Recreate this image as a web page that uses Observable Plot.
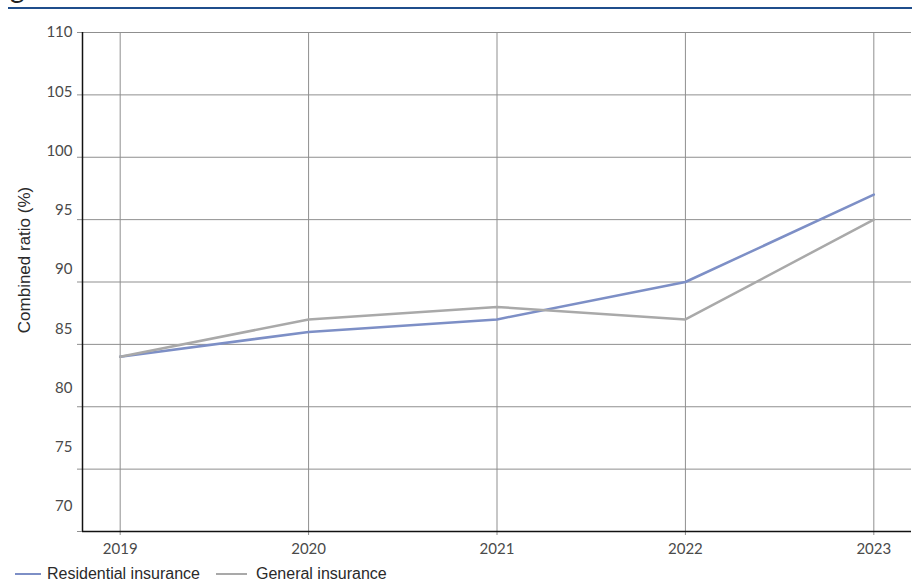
<!DOCTYPE html>
<html>
<head>
<meta charset="utf-8">
<script src="https://cdn.jsdelivr.net/npm/d3@7"></script>
<script src="https://cdn.jsdelivr.net/npm/@observablehq/plot@0.6"></script>
<style>
  html, body { margin: 0; padding: 0; background: #fff; }
  #head { display: block; }
  #legend {
    display: flex; align-items: center; margin: 4px 0 0 15px;
    font: 16px "Liberation Sans", Arial, sans-serif; color: #2a2a2a; line-height: 18px;
  }
  #legend .item { display: flex; align-items: center; margin-right: 16px; }
  #legend .sw { width: 26px; height: 0; border-top: 2.5px solid; margin-right: 6px; }
  #legend .item + .item .sw { width: 31px; margin-right: 9px; }
</style>
</head>
<body>
<svg id="head" width="912" height="10">
  <text x="10" y="-2" font-family="Lato, sans-serif" font-size="28" fill="#222">
    <tspan x="10" dy="-34">Combined ratio, residential insurance and</tspan>
    <tspan x="10" dy="34">general insurance</tspan>
  </text>
  <line x1="8" x2="912" y1="8" y2="8" stroke="#1f4e8c" stroke-width="2"></line>
</svg>
<div id="chart"></div>
<div id="legend"></div>
<script>
// Combined ratio by year, 2019–2023
const years = [2019, 2020, 2021, 2022, 2023];
const residential = [84, 86, 87, 90, 97];
const general = [84, 87, 88, 87, 95];
const seriesNames = ["Residential insurance", "General insurance"];
const seriesColors = ["#7d8fc6", "#a9a9a9"];
const yTicks = [70, 75, 80, 85, 90, 95, 100, 105, 110];

const rows = [
  ...years.map((year, i) => ({year, value: residential[i], series: seriesNames[0]})),
  ...years.map((year, i) => ({year, value: general[i], series: seriesNames[1]}))
];

const yMin = 70, yMax = 110;
// tick labels sit in a slightly tighter band than the grid lines
const labelSpread = 0.95;
const grid = "#8f8f8f";
const tickFont = "Lato, sans-serif";

const chart = Plot.plot({
  width: 912,
  height: 551,
  marginTop: 22,
  marginLeft: 82,
  marginRight: 1,
  marginBottom: 30,
  style: {background: "#fff", overflow: "visible"},
  x: {type: "linear", domain: [2018.8, 2023.2]},
  y: {domain: [yMin, yMax]},
  color: {domain: seriesNames, range: seriesColors},
  marks: [
    Plot.gridX(years, {stroke: grid, strokeOpacity: 1}),
    Plot.gridY(yTicks.filter(t => t > yMin), {stroke: grid, strokeOpacity: 1}),
    Plot.axisY({ticks: yTicks, tickSize: 5, stroke: grid, tickFormat: () => "", label: null}),
    Plot.text(yTicks, {
      y: d => yMax - (yMax - d) * labelSpread,
      text: d => String(d),
      frameAnchor: "left",
      textAnchor: "end",
      dx: -10,
      fontSize: 15,
      fontFamily: tickFont,
      fill: "#4a4a4a"
    }),
    Plot.axisX({
      ticks: years, tickSize: 4, stroke: grid, tickPadding: 8,
      tickFormat: d => String(d), fontSize: 15, fontFamily: tickFont, color: "#4a4a4a", label: null
    }),
    Plot.text(["Combined ratio (%)"], {
      frameAnchor: "left",
      textAnchor: "middle",
      rotate: -90,
      dx: -58,
      dy: -22,
      fontSize: 17,
      fontFamily: "Liberation Sans, Arial, sans-serif",
      fill: "#2a2a2a"
    }),
    Plot.line(rows, {x: "year", y: "value", z: "series", stroke: "series", strokeWidth: 2.5}),
    Plot.ruleX([2018.8], {stroke: "#111", strokeWidth: 1.5}),
    Plot.ruleY([yMin], {stroke: "#111", strokeWidth: 1.5})
  ]
});
document.getElementById("chart").append(chart);

const legend = d3.select("#legend");
seriesNames.forEach((name, i) => {
  const item = legend.append("div").attr("class", "item");
  item.append("span").attr("class", "sw").style("border-color", seriesColors[i]);
  item.append("span").text(name);
});
</script>
</body>
</html>
